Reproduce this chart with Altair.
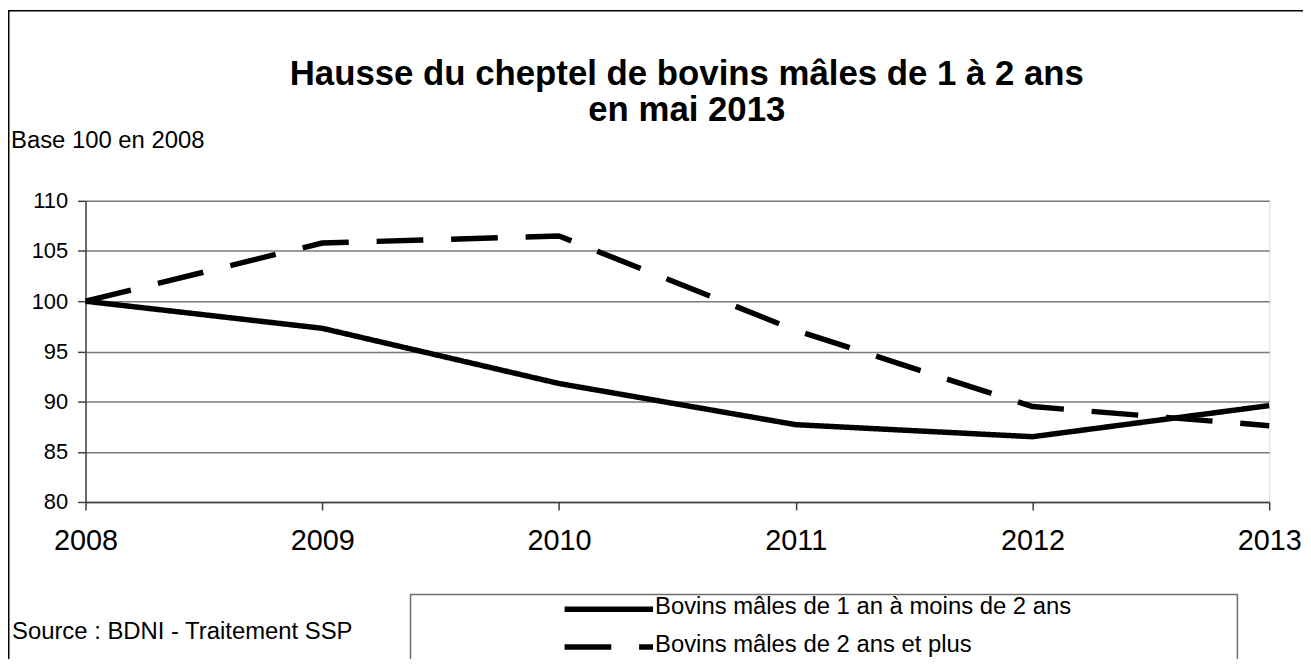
import altair as alt
import pandas as pd

# ---- data ----
years = [2008, 2009, 2010, 2011, 2012, 2013]
serie_1an = [100, 97.3, 91.8, 87.7, 86.5, 89.6]
serie_2ans = [100, 105.8, 106.5, 97.1, 89.5, 87.6]
series_names = ["Bovins mâles de 1 an à moins de 2 ans", "Bovins mâles de 2 ans et plus"]
y_ticks = [80, 85, 90, 95, 100, 105, 110]
title_lines = ["Hausse du cheptel de bovins mâles de 1 à 2 ans", "en mai 2013"]
unit_note = "Base 100 en 2008"
source_note = "Source : BDNI - Traitement SSP"

rows = []
for name, vals in zip(series_names, [serie_1an, serie_2ans]):
    for yr, v in zip(years, vals):
        rows.append({"annee": yr, "indice": v, "serie": name})
df = pd.DataFrame(rows)

FONT = "Liberation Sans"
dash_scale = alt.Scale(domain=series_names, range=[[1, 0], [47, 28]])

W, H = 1191, 303

lines = alt.Chart(df).mark_line(color="black", strokeWidth=5.5, strokeJoin="round").encode(
    x=alt.X("annee:Q", scale=alt.Scale(domain=[2008, 2013], nice=False, zero=False),
            axis=alt.Axis(values=years, format="d", title=None, grid=False,
                          labelFontSize=29, labelFont=FONT, labelColor="black",
                          labelPadding=17, tickSize=8, tickColor="#404040", tickWidth=1.5,
                          domainColor="#404040", domainWidth=1.5, labelFlush=False)),
    y=alt.Y("indice:Q", scale=alt.Scale(domain=[80, 110], nice=False, zero=False),
            axis=alt.Axis(values=y_ticks, title=None, grid=True, gridColor="#7a7a7a",
                          gridWidth=1.5, labelFontSize=22, labelFont=FONT, labelColor="black",
                          labelPadding=10, tickSize=8, tickColor="#404040", tickWidth=1.5,
                          domainColor="#404040", domainWidth=1.5)),
    strokeDash=alt.StrokeDash("serie:N", scale=dash_scale, legend=None),
    detail="serie:N",
)

one = pd.DataFrame({"k": [0]})

# outer frame of the whole figure
frame = alt.Chart(one).mark_rect(fill=None, stroke="black", strokeWidth=1.5).encode(
    x=alt.value(-77.25), x2=alt.value(1400), y=alt.value(-191.25), y2=alt.value(700)
)

title_txt = alt.Chart(pd.DataFrame({"t": [title_lines]})).mark_text(
    align="center", baseline="alphabetic", fontSize=35, font=FONT, fontWeight="bold",
    color="black", lineHeight=37
).encode(text="t", x=alt.value(605), y=alt.value(-117))

unit_txt = alt.Chart(pd.DataFrame({"t": [unit_note]})).mark_text(
    align="left", baseline="middle", fontSize=24, font=FONT, color="black"
).encode(text="t:N", x=alt.value(-75), y=alt.value(-60))
source_txt = alt.Chart(pd.DataFrame({"t": [source_note]})).mark_text(
    align="left", baseline="middle", fontSize=24, font=FONT, color="black"
).encode(text="t:N", x=alt.value(-74), y=alt.value(434))

# legend box + entries
legend_box = alt.Chart(one).mark_rect(fill="white", stroke="#6e6e6e", strokeWidth=1.5).encode(
    x=alt.value(327), x2=alt.value(1159), y=alt.value(396), y2=alt.value(520)
)
leg_df = pd.DataFrame({"serie": series_names})
legend_layers = []
for i, name in enumerate(series_names):
    base = alt.Chart(leg_df).transform_filter(alt.datum.serie == name)
    legend_layers.append(
        base.mark_rule(color="black", strokeWidth=5.5).encode(
            x=alt.value(482), x2=alt.value(571), y=alt.value(411 + 38 * i),
            strokeDash=alt.StrokeDash("serie:N", scale=dash_scale, legend=None),
        )
    )
    legend_layers.append(
        base.mark_text(align="left", baseline="middle", fontSize=24, font=FONT, color="black").encode(
            x=alt.value(573), y=alt.value(409 + 38 * i), text="serie:N"
        )
    )

chart = alt.layer(frame, lines, title_txt, unit_txt, source_txt, legend_box, *legend_layers).properties(
    width=W, height=H,
    autosize=alt.AutoSizeParams(type="none"),
    padding={"left": 78, "top": 192, "right": 34, "bottom": 156},
).configure_view(stroke="#7a7a7a", strokeWidth=1.5).configure(background="white")

chart.save("out.html", embed_options={"renderer": "svg", "actions": False})
